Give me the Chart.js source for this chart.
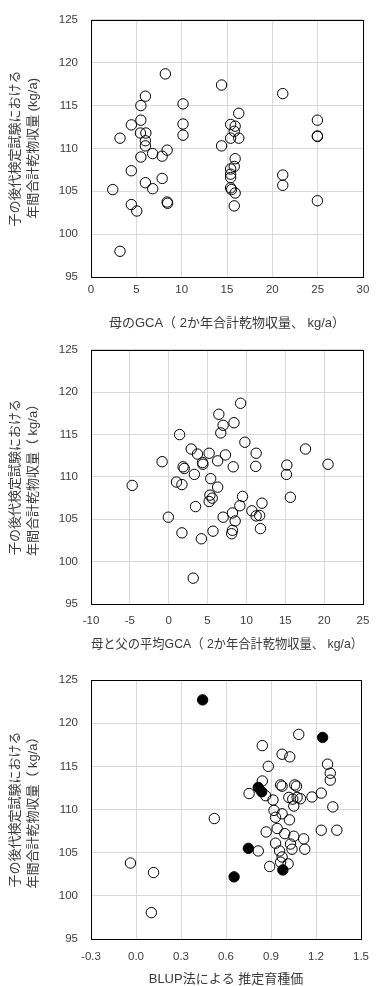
<!DOCTYPE html>
<html>
<head>
<meta charset="utf-8">
<script src="https://cdn.jsdelivr.net/npm/chart.js@4.4.1/dist/chart.umd.min.js"></script>
<style>
  body { margin: 0; background: #fff; width: 380px; height: 986px; position: relative; overflow: hidden; }
  canvas { position: absolute; left: 0; }
</style>
</head>
<body>
<canvas id="c1"></canvas>
<canvas id="c2"></canvas>
<canvas id="c3"></canvas>
<script>
// Panel 1: mother's GCA vs progeny yield
const motherGcaX = [8.2, 14.4, 6.0, 21.15, 10.15, 5.5, 16.3, 5.5, 24.97, 4.45, 10.15, 15.4, 15.9, 15.8, 5.45, 6.05,
  3.2, 10.15, 15.4, 16.3, 24.97, 24.97, 6.0, 6.0, 14.4, 6.8, 7.85, 8.4, 5.5, 15.9, 4.45, 15.8, 15.4, 15.4, 15.4,
  7.85, 6.0, 21.15, 21.15, 2.4, 6.8, 15.4, 15.5, 15.9, 24.97, 8.4, 8.45, 4.45, 5.05, 15.8, 3.2];
const motherGcaY = [118.7, 117.4, 116.1, 116.4, 115.2, 115.0, 114.1, 113.3, 113.3, 112.75, 112.85, 112.8, 112.6, 112.0, 111.8, 111.8,
  111.2, 111.55, 111.2, 111.2, 111.45, 111.4, 110.9, 110.3, 110.3, 109.4, 109.1, 109.8, 109.0, 108.8, 107.4, 107.9, 107.6, 107.0, 106.6,
  106.5, 106.0, 106.9, 105.7, 105.2, 105.3, 105.4, 105.2, 104.8, 103.9, 103.75, 103.6, 103.45, 102.7, 103.3, 98.0];

// Panel 2: mean GCA of mother and father vs progeny yield
const meanGcaX = [9.25, 6.45, 8.4, 7.0, 6.7, 1.4, 9.8, 2.9, 17.6, 3.7, 5.2, 7.3, 11.25, -0.85, 6.3, 4.35, 4.4, 1.85, 2.0,
  8.3, 11.2, 15.2, 20.5, 3.3, 15.15, 5.4, 1.0, 1.7, -4.7, 6.3, 9.5, 5.3, 5.6, 5.2, 15.65, 3.45, 9.15, 12.0, 10.7,
  -0.05, 7.0, 8.2, 11.25, 11.7, 8.55, 11.8, 8.2, 8.1, 1.7, 5.7, 4.2, 3.15];
const meanGcaY = [118.7, 117.4, 116.4, 116.1, 115.2, 115.0, 114.1, 113.3, 113.3, 112.7, 112.8, 112.6, 112.8, 111.8, 111.9, 111.7, 111.5, 111.2, 111.0,
  111.2, 111.25, 111.4, 111.5, 110.3, 110.3, 109.8, 109.4, 109.1, 109.0, 108.8, 107.7, 107.85, 107.5, 107.1, 107.6, 106.5, 106.6, 106.9, 106.0,
  105.25, 105.25, 105.75, 105.4, 105.45, 104.8, 103.9, 103.7, 103.3, 103.4, 103.6, 102.7, 98.05];

// Panel 3: BLUP breeding value vs progeny yield (open = tested, filled = highlighted)
const blupOpenX = [1.085, 0.842, 0.974, 1.025, 0.882, 1.277, 1.295, 1.295, 0.842, 0.964, 0.974, 1.058, 1.07, 0.754, 0.913,
  1.019, 1.074, 1.096, 1.173, 1.235, 1.052, 1.312, 0.92, 0.974, 0.93, 1.023, 0.941, 0.868, 1.052, 0.992, 1.235, 1.339,
  1.118, 0.93, 0.957, 1.04, 1.125, 1.03, 0.815, 0.891, 0.964, 1.014, 0.974, 0.522, -0.037, 0.117, 0.102, 0.864, 1.045];
const blupOpenY = [118.7, 117.4, 116.4, 116.1, 115.0, 115.25, 114.2, 113.4, 113.3, 112.85, 112.7, 112.85, 112.7, 111.85, 111.1,
  111.4, 111.4, 111.25, 111.45, 111.9, 110.4, 110.3, 109.9, 109.5, 109.1, 108.8, 107.8, 107.4, 106.9, 107.2, 107.6, 107.6,
  106.6, 106.1, 105.2, 105.4, 105.4, 106.0, 105.2, 103.4, 103.9, 103.7, 104.5, 108.95, 103.8, 102.7, 98.05, 111.6, 111.2];
const blupFilledX = [0.444, 1.244, 0.815, 0.838, 0.749, 0.654, 0.979];
const blupFilledY = [122.7, 118.35, 112.55, 112.05, 105.5, 102.2, 103.0];

const yTicks = { min: 95, max: 125, step: 5 };
const yTitleLine1 = "子の後代検定試験における";

const TEXT = "#3a3a3a";
const FONT = '"Liberation Sans", Arial, "Noto Sans CJK JP", sans-serif';

const toPoints = (xs, ys) => xs.map((x, i) => ({ x, y: ys[i] }));

// black frame around the plot area
const frame = {
  id: "frame",
  beforeDatasetsDraw(chart) {
    const { ctx, chartArea: a } = chart;
    ctx.save();
    ctx.strokeStyle = "#000";
    ctx.lineWidth = 1;
    ctx.strokeRect(Math.round(a.left) + 0.5, Math.round(a.top) + 0.5,
      Math.round(a.right - a.left), Math.round(a.bottom - a.top));
    ctx.restore();
  },
};

function makeChart(id, g, xOpts, datasets, yLine2, xTitle) {
  const canvas = document.getElementById(id);
  const H = Math.round(g.titleY + 7.8 + 4 - g.top);
  canvas.width = 380;
  canvas.height = H;
  canvas.style.top = g.top + "px";
  const xHeight = H - (g.areaBottom - g.top);

  return new Chart(canvas, {
    type: "scatter",
    data: { datasets },
    plugins: [frame],
    options: {
      responsive: false,
      animation: false,
      devicePixelRatio: 1,
      events: [],
      layout: { padding: { top: g.areaTop - g.top, right: 17, left: 0, bottom: 0 } },
      plugins: { legend: { display: false }, tooltip: { enabled: false } },
      scales: {
        x: {
          type: "linear",
          min: xOpts.min,
          max: xOpts.max,
          afterFit: (s) => { s.height = xHeight; },
          afterBuildTicks: (s) => {
            s.ticks = xOpts.ticks.map((v) => ({ value: v }));
          },
          grid: { color: "#d9d9d9", drawTicks: false },
          border: { display: false },
          ticks: {
            padding: g.tickPad,
            color: TEXT,
            font: { family: FONT, size: 11.5 },
            maxRotation: 0,
            callback: xOpts.fmt,
          },
          title: {
            display: true,
            text: xTitle,
            color: TEXT,
            font: { family: FONT, size: 13 },
            padding: { top: 0, bottom: 4 },
          },
        },
        y: {
          min: yTicks.min,
          max: yTicks.max,
          afterFit: (s) => { s.width = 91; },
          grid: { color: "#d9d9d9", drawTicks: false },
          border: { display: false },
          ticks: {
            stepSize: yTicks.step,
            padding: 13,
            color: TEXT,
            font: { family: FONT, size: 11.5 },
          },
          title: {
            display: true,
            text: [yTitleLine1, yLine2],
            color: TEXT,
            font: { family: FONT, size: 13, lineHeight: 18 / 13 },
            padding: { top: 6, bottom: 0 },
          },
        },
      },
    },
  });
}

const openStyle = { pointRadius: 5.2, borderWidth: 1, borderColor: "#000", backgroundColor: "rgba(0,0,0,0)" };
const filledStyle = { pointRadius: 5.2, borderWidth: 1, borderColor: "#000", backgroundColor: "#000" };

makeChart("c1",
  { top: 0, areaTop: 19, areaBottom: 277, tickPad: 6, titleY: 323 },
  { min: 0, max: 30, ticks: [0, 5, 10, 15, 20, 25, 30], fmt: (v) => v },
  [{ data: toPoints(motherGcaX, motherGcaY), ...openStyle }],
  "年間合計乾物収量 (kg/a)",
  "母のGCA（ 2か年合計乾物収量、 kg/a）");

makeChart("c2",
  { top: 330, areaTop: 346, areaBottom: 604, tickPad: 10, titleY: 644 },
  { min: -10, max: 25, ticks: [-10, -5, 0, 5, 10, 15, 20, 25], fmt: (v) => v },
  [{ data: toPoints(meanGcaX, meanGcaY), ...openStyle }],
  "年間合計乾物収量（ kg/a）",
  "母と父の平均GCA（ 2か年合計乾物収量、 kg/a）");

makeChart("c3",
  { top: 656, areaTop: 680, areaBottom: 939, tickPad: 11, titleY: 979 },
  { min: -0.3, max: 1.5, ticks: [-0.3, 0, 0.3, 0.6, 0.9, 1.2, 1.5], fmt: (v) => Number(v).toFixed(1) },
  [
    { data: toPoints(blupFilledX, blupFilledY), ...filledStyle },
    { data: toPoints(blupOpenX, blupOpenY), ...openStyle },
  ],
  "年間合計乾物収量（ kg/a）",
  "BLUP法による 推定育種価");
</script>
</body>
</html>
